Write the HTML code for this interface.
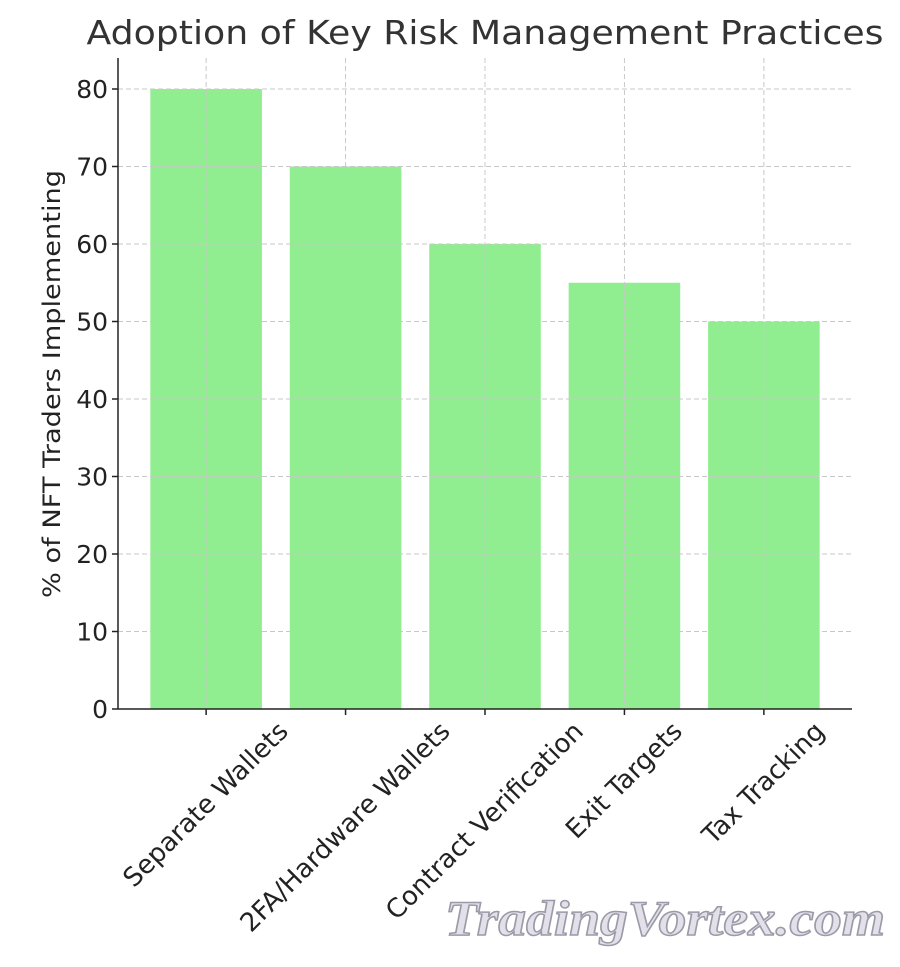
<!DOCTYPE html>
<html><head><meta charset="utf-8"><style>
html,body{margin:0;padding:0;background:#fff;}
svg text{font-family:"DejaVu Sans","Liberation Sans",sans-serif;fill:#222;}
</style></head><body>
<svg id="chart" width="900" height="962" viewBox="0 0 900 962" xmlns="http://www.w3.org/2000/svg">
<rect width="900" height="962" fill="#fff"/>
<text x="485" y="44" font-size="33" text-anchor="middle" textLength="797" lengthAdjust="spacingAndGlyphs" style="fill:#333">Adoption of Key Risk Management Practices</text>
<g id="grid"></g><g id="bars"></g><g id="axes"></g>
<text transform="translate(60,384) rotate(-90)" font-size="24" text-anchor="middle" textLength="428" lengthAdjust="spacingAndGlyphs">% of NFT Traders Implementing</text>
<text x="665" y="935" font-size="50" text-anchor="middle" font-style="italic" font-weight="bold" textLength="440" lengthAdjust="spacingAndGlyphs" style="font-family:'Liberation Serif',serif;fill:#e4e0ea;stroke:#9a9aa8;stroke-width:1.5">TradingVortex.com</text>
</svg>
<script>
const categories=["Separate Wallets","2FA/Hardware Wallets","Contract Verification","Exit Targets","Tax Tracking"];
const values=[80,70,60,55,50];
const yTicks=[0,10,20,30,40,50,60,70,80];
const NS="http://www.w3.org/2000/svg";
const L=118,R=852,T=58,B=709;
const x=i=>L+(i+0.632)/(5.264)*(R-L);
const y=v=>B-v*(B-89)/80;
const band=(R-L)/5.264, bw=band*0.8;
function mk(tag,attrs,parent){const e=document.createElementNS(NS,tag);for(const k in attrs)e.setAttribute(k,attrs[k]);parent.appendChild(e);return e;}
const grid=document.getElementById('grid'),bars=document.getElementById('bars'),axes=document.getElementById('axes');
yTicks.forEach(t=>{
  const g=mk('line',{x1:L,x2:R,y1:y(t),y2:y(t),stroke:'#c8c8c8','stroke-dasharray':'5,3','stroke-width':1},grid);
  
  
  const tk=mk('line',{x1:L-6,x2:L,y1:y(t),y2:y(t),stroke:'#222','stroke-width':1.5},axes);
  
  
  const lb=mk('text',{x:L-10,y:y(t)+9,'font-size':25,'text-anchor':'end'},axes);
  lb.textContent=t;
  
  
});
categories.forEach((c,i)=>{
  const gl=mk('line',{x1:x(i),x2:x(i),y1:T,y2:B,stroke:'#c8c8c8','stroke-dasharray':'5,3','stroke-width':1},grid);
  
  
  const b=mk('rect',{x:x(i)-bw/2,y:y(values[i]),width:bw,height:B-y(values[i]),fill:'#90ee90'},bars);
  
  
  const tk=mk('line',{x1:x(i),x2:x(i),y1:B,y2:B+6,stroke:'#222','stroke-width':1.5},axes);
  
  
  const lb=mk('text',{'font-size':26,'text-anchor':'middle','dominant-baseline':'central'},axes);
  lb.textContent=c;
  
  
  const len=lb.getComputedTextLength();
  const half=(len+26)/(2*Math.SQRT2);
  lb.setAttribute('transform','translate('+x(i)+','+(718+half)+') rotate(-45)');
});
document.getElementById('chart').appendChild(grid);
document.getElementById('chart').appendChild(axes);
const sp1=mk('line',{x1:L,x2:L,y1:T,y2:B,stroke:'#222','stroke-width':1.5},axes);


const sp2=mk('line',{x1:L,x2:R,y1:B,y2:B,stroke:'#222','stroke-width':1.5},axes);


</script>
</body></html>
